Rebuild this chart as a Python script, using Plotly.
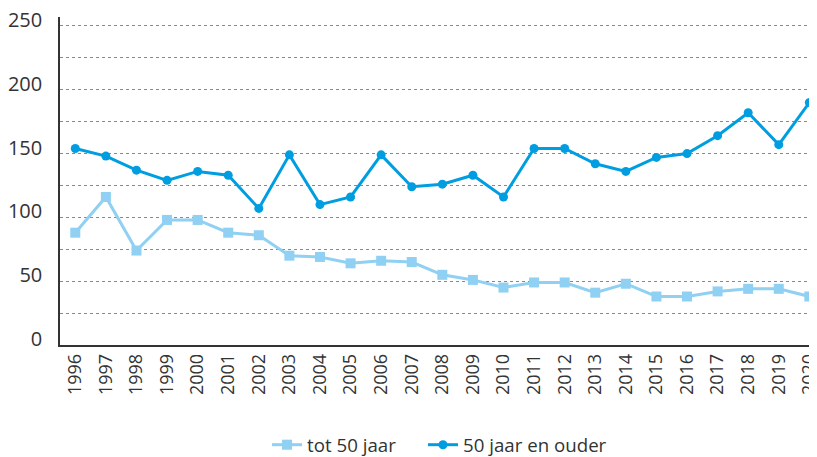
import plotly.graph_objects as go

years = [str(y) for y in range(1996, 2021)]
tot_50 = [88, 116, 74, 98, 98, 88, 86, 70, 69, 64, 66, 65, 55, 51, 45, 49, 49, 41, 48, 38, 38, 42, 44, 44, 38]
vanaf_50 = [154, 148, 137, 129, 136, 133, 107, 149, 110, 116, 149, 124, 126, 133, 116, 154, 154, 142, 136, 147, 150, 164, 182, 157, 190]
y_ticks = [0, 50, 100, 150, 200, 250]

light = "#8fd0f3"
dark = "#009ee0"
font_family = "Open Sans, Noto Sans, sans-serif"

fig = go.Figure()
fig.add_trace(go.Scatter(
    x=years, y=tot_50, name="tot 50 jaar", mode="lines+markers",
    line=dict(color=light, width=3),
    marker=dict(symbol="square", size=10, color=light),
    cliponaxis=False, legend="legend",
))
fig.add_trace(go.Scatter(
    x=years, y=vanaf_50, name="50 jaar en ouder", mode="lines+markers",
    line=dict(color=dark, width=3),
    marker=dict(symbol="circle", size=9, color=dark),
    cliponaxis=False, legend="legend2",
))

legend_style = dict(orientation="h", xanchor="left", y=-0.305, yanchor="middle",
                    font=dict(size=18.7, color="#333333"), bgcolor="rgba(0,0,0,0)")

# page body has an 8px margin, so the figure is sized to the visible area
fig.update_layout(
    width=809, height=449,
    margin=dict(l=52, r=0, t=9, b=112, autoexpand=False),
    paper_bgcolor="white", plot_bgcolor="white",
    font=dict(family=font_family, size=18, color="#333333"),
    showlegend=True,
    legend=dict(x=0.2735, **legend_style),
    legend2=dict(x=0.4795, **legend_style),
)
fig.update_xaxes(
    type="category", range=[-0.5, 24.25], automargin=False,
    showgrid=False, showline=True, linecolor="#333333", linewidth=1.5,
    tickangle=-90, tickfont=dict(size=18, color="#333333"), ticks="",
)
fig.update_yaxes(
    range=[0, 257], tickvals=y_ticks, automargin=False,
    showline=True, linecolor="#333333", linewidth=1.5,
    showgrid=False, zeroline=False, ticks="", ticklabelstandoff=12,
    ticklabelshift=-6, ticklabeloverflow="allow",
    tickfont=dict(size=20, color="#333333"),
)
# dotted gridlines every 25 via minor grid
fig.update_yaxes(minor=dict(tickvals=list(range(25, 251, 25)), showgrid=True,
                            gridcolor="#888888", griddash="dot", gridwidth=1, ticks=""))

fig.write_html("out.html")
